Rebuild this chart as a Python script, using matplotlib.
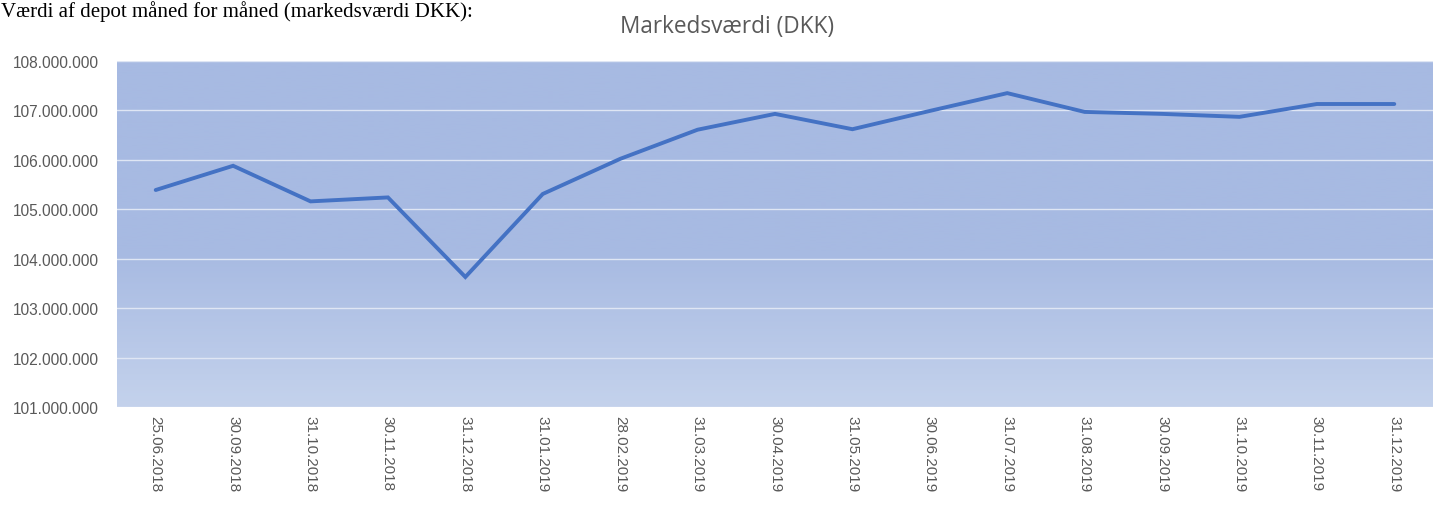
import numpy as np
import matplotlib
matplotlib.use("Agg")
import matplotlib.pyplot as plt
from matplotlib.ticker import FuncFormatter

dates = ["25.06.2018", "30.09.2018", "31.10.2018", "30.11.2018", "31.12.2018",
         "31.01.2019", "28.02.2019", "31.03.2019", "30.04.2019", "31.05.2019",
         "30.06.2019", "31.07.2019", "31.08.2019", "30.09.2019", "31.10.2019",
         "30.11.2019", "31.12.2019"]
values = [105390000, 105880000, 105160000, 105240000, 103630000,
          105310000, 106020000, 106610000, 106930000, 106620000,
          106990000, 107350000, 106970000, 106930000, 106870000,
          107130000, 107130000]
y_ticks = [101000000, 102000000, 103000000, 104000000,
           105000000, 106000000, 107000000, 108000000]

title = "Markedsværdi (DKK)"
header = "Værdi af depot måned for måned (markedsværdi DKK):"

W, H = 1436, 510
fig = plt.figure(figsize=(W / 100, H / 100), dpi=100)
fig.patch.set_facecolor("white")
ax = fig.add_axes([117 / W, 1 - 408 / H, (1433 - 117) / W, (408 - 62) / H])

x = np.arange(len(dates))
ax.set_xlim(-0.5, len(dates) - 0.5)
ax.set_ylim(y_ticks[0], y_ticks[-1])

# gradient background
top = np.array([167, 186, 226]) / 255
bot = np.array([196, 210, 236]) / 255
t = np.linspace(0, 1, 256)[:, None]
grad = np.zeros((256, 1, 3))
frac = np.clip((t - 0.55) / 0.45, 0, 1)
for c in range(3):
    grad[:, 0, c] = top[c] + (bot[c] - top[c]) * frac[:, 0]
ax.imshow(grad, extent=[-0.5, len(dates) - 0.5, y_ticks[0], y_ticks[-1]],
          aspect="auto", origin="upper", zorder=0)

ax.set_yticks(y_ticks)
ax.yaxis.set_major_formatter(FuncFormatter(lambda v, p: f"{int(v):,}".replace(",", ".")))
ax.grid(axis="y", color="#dfe6f4", linewidth=1.0, zorder=1)
ax.set_axisbelow(False)

ax.plot(x, values, color="#4472C4", linewidth=2.8, solid_joinstyle="miter",
        solid_capstyle="round", zorder=3)

ax.set_xticks(x)
ax.set_xticklabels(dates, rotation=270, fontsize=11, color="#595959",
                   family="Liberation Sans")
for lab in ax.get_yticklabels():
    lab.set_fontsize(11.2)
    lab.set_color("#595959")
    lab.set_family("Liberation Sans")
ax.tick_params(axis="both", length=0)
ax.tick_params(axis="x", pad=6)
ax.tick_params(axis="y", pad=13)
for s in ax.spines.values():
    s.set_visible(False)

fig.text(727 / W, 1 - 27 / H, title, ha="center", va="center",
         fontsize=16.3, color="#595959", family="Open Sans")
fig.text(1 / W, 1 - 1 / H, header, ha="left", va="top",
         fontsize=15, color="black", family="Liberation Serif")

fig.savefig("out.png", dpi=100, facecolor="white")
